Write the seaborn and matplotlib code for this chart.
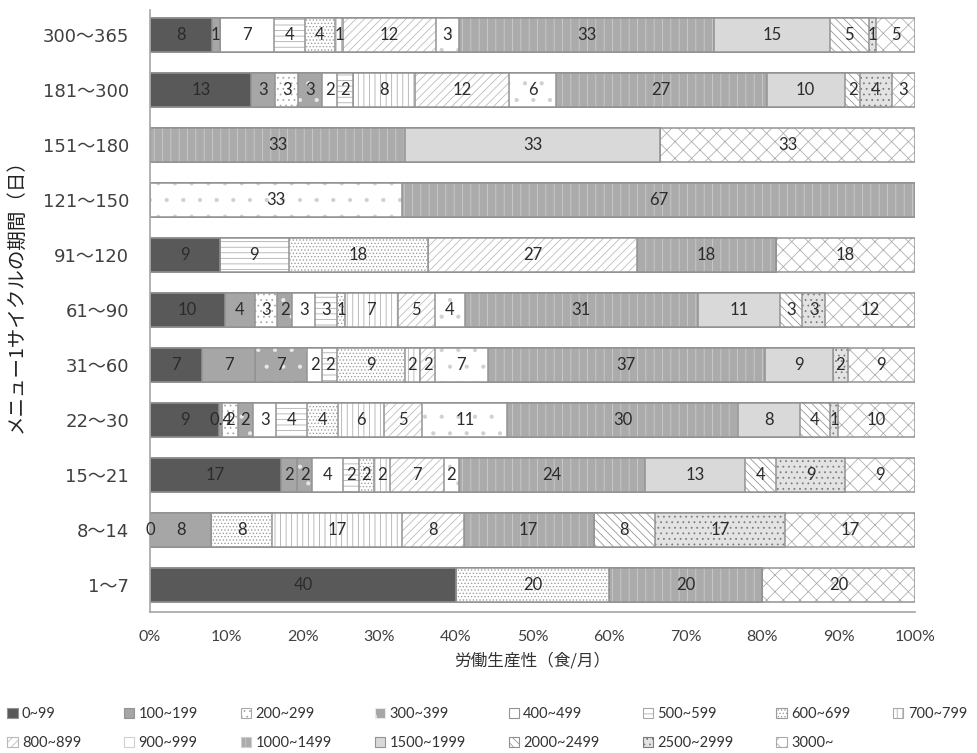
import numpy as np
import pandas as pd
import matplotlib
matplotlib.use("Agg")
import matplotlib.pyplot as plt
from matplotlib.patches import Patch
from matplotlib.ticker import FuncFormatter
import seaborn as sns

# ---------------- data ----------------
periods = ["300～365", "181～300", "151～180", "121～150", "91～120", "61～90",
           "31～60", "22～30", "15～21", "8～14", "1～7"]
bins = ["0~99", "100~199", "200~299", "300~399", "400~499", "500~599", "600~699",
        "700~799", "800~899", "900~999", "1000~1499", "1500~1999", "2000~2499",
        "2500~2999", "3000~"]
N = np.nan
# one list per period (values in %, NaN = no segment)
r_300_365 = [8, 1, N, N, 7, 4, 4, 1, 12, 3, 33, 15, 5, 1, 5]
r_181_300 = [13, 3, 3, 3, 2, 2, N, 8, 12, 6, 27, 10, 2, 4, 3]
r_151_180 = [N, N, N, N, N, N, N, N, N, N, 33, 33, N, N, 33]
r_121_150 = [N, N, N, N, N, N, N, N, N, 33, 67, N, N, N, N]
r_91_120 = [9, N, N, N, N, 9, 18, N, 27, N, 18, N, N, N, 18]
r_61_90 = [10, 4, 3, 2, 3, 3, 1, 7, 5, 4, 31, 11, 3, 3, 12]
r_31_60 = [7, 7, N, 7, 2, 2, 9, 2, 2, 7, 37, 9, N, 2, 9]
r_22_30 = [9, 0.4, 2, 2, 3, 4, 4, 6, 5, 11, 30, 8, 4, 1, 10]
r_15_21 = [17, 2, N, 2, 4, 2, 2, 2, 7, 2, 24, 13, 4, 9, 9]
r_8_14 = [0, 8, N, N, N, N, 8, 17, 8, N, 17, N, 8, 17, 17]
r_1_7 = [40, N, N, N, N, N, 20, N, N, N, 20, N, N, N, 20]
rows = [r_300_365, r_181_300, r_151_180, r_121_150, r_91_120, r_61_90,
        r_31_60, r_22_30, r_15_21, r_8_14, r_1_7]

# styles: (facecolor, hatch, hatchcolor)
styles = [
    ("#595959", None, None),
    ("#a6a6a6", None, None),
    ("white", "...", "#a8a8a8"),
    ("#a6a6a6", ".", "#e8e8e8"),
    ("white", None, None),
    ("white", "---", "#a8a8a8"),
    ("white", ".....", "#9a9a9a"),
    ("white", "|||", "#a8a8a8"),
    ("white", "////", "#b8b8b8"),
    ("white", ".", "#d0d0d0"),
    ("#ababab", "||", "#cfcfcf"),
    ("#d9d9d9", None, None),
    ("white", "\\\\\\\\", "#909090"),
    ("#e3e3e3", "...", "#7a7a7a"),
    ("white", "xx", "#aaaaaa"),
]
edge = "#939393"

vals = np.array(rows, dtype=float)
filled = np.nan_to_num(vals)
totals = filled.sum(axis=1, keepdims=True)
pct = filled / totals * 100
cum = np.cumsum(pct, axis=1)

sns.set_style("white")
plt.rcParams["font.family"] = ["Noto Sans CJK JP", "DejaVu Sans"]
plt.rcParams["hatch.linewidth"] = 0.55

fig = plt.figure(figsize=(9.78, 7.53), dpi=100)
ax = fig.add_axes([150 / 978, 1 - 612 / 753, 765 / 978, 602 / 753])

# draw stacked bars from the last layer to the first (cumulative widths)
for k in range(len(bins) - 1, -1, -1):
    df = pd.DataFrame({"period": periods, "cum": cum[:, k]})
    fc, hatch, hc = styles[k]
    sns.barplot(data=df, x="cum", y="period", order=periods, orient="h",
                color=fc, saturation=1, errorbar=None, width=0.62,
                hatch=hatch, edgecolor=hc if hc else fc, linewidth=0, ax=ax)
    sns.barplot(data=df, x="cum", y="period", order=periods, orient="h",
                fill=False, errorbar=None, width=0.62, saturation=1,
                edgecolor=edge, linewidth=1.1, ax=ax)

# labels
for i in range(len(periods)):
    for k in range(len(bins)):
        v = vals[i, k]
        if np.isnan(v):
            continue
        xc = cum[i, k] - pct[i, k] / 2
        ax.text(xc, i, f"{v:g}", ha="center", va="center", fontsize=12,
                family=["Lato", "DejaVu Sans"], color="#2b2b2b", zorder=10)

ax.set_xlim(0, 100)
ax.set_ylim(10.49, -0.45)
ax.set_xticks(np.arange(0, 101, 10))
ax.xaxis.set_major_formatter(FuncFormatter(lambda x, p: f"{x:.0f}%"))
ax.tick_params(axis="x", labelsize=11.5, length=0, pad=13, colors="#404040")
ax.tick_params(axis="y", labelsize=13, length=0, pad=15, colors="#404040")
for lab in ax.get_xticklabels():
    lab.set_family(["Lato", "DejaVu Sans"])
for lab in ax.get_yticklabels():
    lab.set_family(["DejaVu Sans", "Noto Sans CJK JP"])
ax.set_xlabel("労働生産性（食/月）", fontsize=12, color="#333333", labelpad=6)
ax.set_ylabel("メニュー1サイクルの期間（日）", fontsize=14, color="#222222",
              va="center")
ax.yaxis.set_label_coords((16 - 150) / 765, (612 - 291) / 602)
for s in ["top", "right"]:
    ax.spines[s].set_visible(False)
for s in ["left", "bottom"]:
    ax.spines[s].set_color("#a6a6a6")
    ax.spines[s].set_linewidth(1.2)

# legend
handles = []
for k, b in enumerate(bins):
    fc, hatch, hc = styles[k]
    handles.append(Patch(facecolor=fc, hatch=hatch, edgecolor=hc if hc else edge,
                         linewidth=0.8, label=b))
order = [0, 8, 1, 9, 2, 10, 3, 11, 4, 12, 5, 13, 6, 14, 7]
fig.legend([handles[i] for i in order], [bins[i] for i in order], ncol=8,
           loc="lower left", bbox_to_anchor=(0.0, -0.006), frameon=False,
           prop={"family": ["Lato", "DejaVu Sans"], "size": 10.5},
           handlelength=0.7, handleheight=0.7, handletextpad=0.3,
           columnspacing=2.95, labelspacing=1.05, borderaxespad=0.1,
           labelcolor="#333333")

fig.savefig("out.png", dpi=100)
